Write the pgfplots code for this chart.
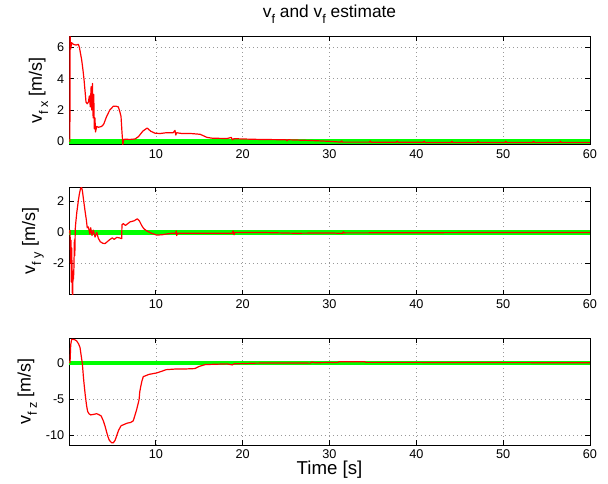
\documentclass[border=0pt]{standalone}
\usepackage{pgfplots}
\pgfplotsset{compat=1.18}
\usepackage{fontspec}
\setmainfont{Liberation Sans}
\newcommand{\sub}[1]{\raisebox{-0.65ex}{\fontsize{9.5}{10}\selectfont #1}}
\definecolor{mgreen}{rgb}{0,1,0}
\begin{document}
\begin{tikzpicture}
\path[use as bounding box] (0pt,0pt) rectangle (456pt,362.25pt);
\pgfplotsset{
 myax/.style={
  scale only axis, width=390.75pt, xmin=0, xmax=60, xtick={10,20,...,60},
  grid=major, major grid style={dash pattern=on 0.6pt off 2.4pt, gray!80, line width=0.4pt},
  tick align=inside, xtick pos=both, ytick pos=both, major tick length=3.5pt,
  axis line style={line width=0.7pt}, every tick/.style={black, line width=0.6pt},
  tick label style={font=\fontsize{9.5}{11}\selectfont},
  /pgf/number format/assume math mode=true,
  ylabel style={font=\fontsize{13.5}{16}\selectfont},
  xlabel style={font=\fontsize{14}{16}\selectfont, yshift=5pt},
  title style={font=\fontsize{13}{15}\selectfont},
 },
 greenl/.style={color=mgreen, line width=3.3pt},
 redl/.style={red, line width=0.9pt, line join=round},
}
% ---------- v_fx ----------
\begin{axis}[myax, at={(51.75pt,253.9pt)}, anchor=south west, height=81pt,
  ymin=-0.2, ymax=6.7, ytick={0,2,4,6},
  ylabel={v\sub{f x} [m/s]},
  title={v\sub{f} and v\sub{f} estimate}]
\addplot[greenl] coordinates {(0,0) (60,0)};
\addplot[redl] coordinates {
(0.05,0) (0.1,0.0) (0.12,6.8) (0.2,5.9) (0.3,6.3) (0.5,6.2) (0.8,6.15) (1.07,6.2) (1.2,6.0)
(1.46,5.2) (1.6,4.6) (1.73,3.95) (1.85,3.2) (1.96,2.5) (2.1,2.4) (2.23,2.5) (2.35,2.9)
(2.45,2.2) (2.55,3.5) (2.62,2.0) (2.7,3.7) (2.78,1.5) (2.85,3.0) (2.92,0.8) (2.99,1.5)
(3.05,0.6) (3.19,0.95) (3.4,0.9) (3.76,0.95) (4.0,1.1) (4.34,1.6) (4.7,2.0) (5.1,2.24)
(5.4,2.25) (5.68,2.2) (5.85,1.9) (5.99,1.6) (6.1,0.6) (6.2,-0.2) (6.3,0.1) (6.45,0.14)
(7.0,0.12) (7.6,0.15) (8.0,0.3) (8.5,0.65) (9.0,0.85) (9.4,0.65) (9.9,0.52) (10.5,0.5)
(11.2,0.55) (12.0,0.55) (12.2,0.7) (12.3,0.4) (12.4,0.55) (13,0.5) (14,0.5) (15.1,0.45)
(15.5,0.35) (15.9,0.25) (16.5,0.2) (18.2,0.18) (18.7,0.25) (18.8,0.1) (19,0.17) (20,0.15)
(22,0.12) (25,0.1) (25.1,0.03) (25.2,0.1) (28,0.05) (30,0.0) (31.3,-0.05) (31.4,0.03)
(31.5,-0.05) (34.6,-0.05) (34.7,0.02) (34.8,-0.06) (37.7,-0.06) (37.8,0.01) (37.9,-0.06)
(40.8,-0.06) (40.9,0.01) (41.0,-0.07) (44,-0.07) (44.1,0.0) (44.2,-0.07) (47,-0.07)
(47.1,0.0) (47.2,-0.07) (50.2,-0.07) (50.3,0.0) (50.4,-0.07) (53.4,-0.07) (53.5,0.0)
(53.6,-0.07) (56.5,-0.07) (56.6,0.0) (56.7,-0.07) (59.6,-0.07) (60,-0.07)};
\end{axis}
% ---------- v_fy ----------
\begin{axis}[myax, at={(51.75pt,141.4pt)}, anchor=south west, height=80.25pt,
  ymin=-4, ymax=2.9, ytick={-2,0,2},
  ylabel={v\sub{f y} [m/s]}]
\addplot[greenl] coordinates {(0,0) (60,0)};
\addplot[redl] coordinates {
(0.05,0) (0.12,0.14) (0.18,-2) (0.22,-0.5) (0.27,-3.2) (0.32,-1.0) (0.37,-3.8) (0.42,-4.1)
(0.47,-2.5) (0.52,-3.0) (0.57,-2.2) (0.62,-0.5) (0.67,-1.5) (0.72,0.2) (0.77,0.57) (0.9,1.3)
(1.08,2.06) (1.2,2.5) (1.34,2.85) (1.45,2.9) (1.54,2.7) (1.7,2.0) (1.84,1.42) (2.0,0.8)
(2.1,0.3) (2.23,0.36) (2.4,-0.1) (2.5,0.3) (2.65,-0.2) (2.8,0.15) (3.0,-0.3) (3.2,0.0)
(3.38,-0.38) (3.6,-0.6) (3.9,-0.7) (4.15,-0.72) (4.4,-0.6) (4.72,-0.45) (5.0,-0.35)
(5.2,-0.45) (5.49,-0.32) (5.8,-0.35) (6.07,-0.4) (6.1,0.5) (6.26,0.57) (6.5,0.45)
(7.03,0.68) (7.5,0.75) (7.87,0.88) (8.1,0.75) (8.37,0.45) (8.6,0.25) (8.95,0.1) (9.5,-0.05)
(10.1,-0.17) (10.7,-0.15) (11.25,-0.1) (11.8,-0.05) (12.3,-0.05) (12.35,0.1) (12.4,-0.2)
(12.5,-0.05) (14.3,-0.05) (16,-0.05) (18.8,-0.05) (18.9,0.1) (19,-0.15) (19.1,0.0) (22,0.0)
(26,-0.05) (30,-0.03) (31.5,-0.06) (31.6,0.04) (31.7,-0.03) (40,-0.02) (50,0.0) (60,0.0)};
\end{axis}
% ---------- v_fz ----------
\begin{axis}[myax, at={(51.75pt,28.5pt)}, anchor=south west, height=80.25pt,
  ymin=-11.3, ymax=3.4, ytick={-10,-5,0},
  ylabel={v\sub{f z} [m/s]}, xlabel={Time [s]}]
\addplot[greenl] coordinates {(0,0) (60,0)};
\addplot[redl] coordinates {
(0.05,0) (0.12,0.08) (0.2,2.5) (0.31,3.22) (0.6,3.2) (0.88,3.0) (1.1,2.6) (1.27,2.1)
(1.4,1.0) (1.54,-0.14) (1.65,-1.8) (1.73,-2.83) (1.85,-4.2) (1.96,-5.3) (2.04,-6.0)
(2.15,-6.7) (2.3,-7.0) (2.5,-7.17) (2.8,-7.1) (3.19,-7.0) (3.38,-7.1) (3.7,-7.3) (3.96,-8.0)
(4.15,-8.7) (4.34,-9.55) (4.5,-10.2) (4.65,-10.67) (4.9,-10.98) (5.1,-11.0) (5.3,-10.67)
(5.5,-10.0) (5.7,-9.3) (6.0,-8.65) (6.3,-8.5) (6.7,-8.3) (7.1,-8.2) (7.4,-7.98) (7.6,-7.2)
(7.8,-6.4) (8.07,-5.07) (8.15,-4.0) (8.26,-3.28) (8.4,-2.5) (8.56,-1.9) (8.9,-1.75)
(9.2,-1.6) (10.1,-1.4) (10.6,-1.2) (11.2,-0.95) (12.4,-0.85) (13.5,-0.85) (14.5,-0.8)
(15.0,-0.5) (15.7,-0.25) (17,-0.2) (18.2,-0.15) (18.8,-0.3) (19,-0.15) (21.6,-0.05)
(25,-0.03) (27.8,-0.05) (28,0.1) (28.3,0.0) (31,0.05) (31.1,0.15) (34,0.15) (34.2,0.05)
(40,0.05) (50,0.02) (60,0.0)};
\end{axis}
\end{tikzpicture}
\end{document}
